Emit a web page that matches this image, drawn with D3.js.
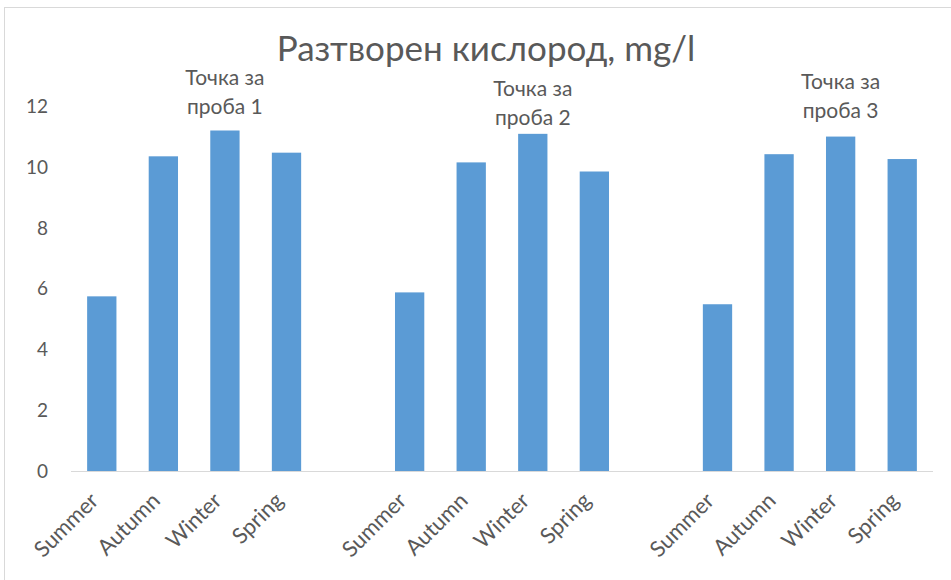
<!DOCTYPE html>
<html>
<head>
<meta charset="utf-8">
<script src="https://cdn.jsdelivr.net/npm/d3@7"></script>
<style>
    body { margin: 0; background: #fff; }
    text { font-family: Lato, "Open Sans", sans-serif; fill: #595959; }
</style>
</head>
<body>
<div id="chart"></div>
<script>
/*
----------------------------------------------------
    Data
----------------------------------------------------
*/
const seasons = ["Summer", "Autumn", "Winter", "Spring"];
const sampleLabels = ["Точка за\nпроба 1", "Точка за\nпроба 2", "Точка за\nпроба 3"];
const oxygenPoint1 = [5.75, 10.36, 11.21, 10.48];
const oxygenPoint2 = [5.88, 10.16, 11.10, 9.86];
const oxygenPoint3 = [5.49, 10.43, 11.01, 10.27];
const yTicks = [0, 2, 4, 6, 8, 10, 12];
const title = "Разтворен кислород, mg/l";

/*
----------------------------------------------------
    Build category slots (blank slot between groups)
----------------------------------------------------
*/
const groups = [oxygenPoint1, oxygenPoint2, oxygenPoint3];
var slots = [];
groups.forEach((vals, g) => {
    vals.forEach((v, i) => {
        slots.push({ id: slots.length, season: seasons[i], value: v, group: g });
    });
    if (g < groups.length - 1) slots.push({ id: slots.length, season: "", value: null, group: g });
});

var width = 951, height = 580;
var margin = { top: 106.5, right: 18, bottom: 109, left: 71 };

var svg = d3.select("#chart")
    .append("svg")
    .attr("width", width)
    .attr("height", height);

// Outer chart border (only the left/top edges show in the frame)
svg.append("rect")
    .attr("x", 4.5)
    .attr("y", 7.5)
    .attr("width", 1000)
    .attr("height", 1000)
    .attr("fill", "none")
    .attr("stroke", "#d9d9d9");

var x = d3.scaleBand()
    .domain(slots.map(d => d.id))
    .range([margin.left, width - margin.right])
    .paddingInner(0.524)
    .paddingOuter(0.262);

var y = d3.scaleLinear()
    .domain([0, 12])
    .range([height - margin.bottom, margin.top]);

// Title
svg.append("text")
    .attr("x", 486)
    .attr("y", 61)
    .attr("text-anchor", "middle")
    .style("font-size", "35px")
    .text(title);

// Y axis labels (no line, no gridlines)
var yAxis = svg.append("g")
    .attr("transform", "translate(" + (margin.left - 23) + ",0)")
    .call(d3.axisLeft(y).tickValues(yTicks).tickSize(0).tickPadding(0));
yAxis.select(".domain").remove();
yAxis.selectAll("text")
    .attr("fill", "#595959")
    .style("font-size", "19px")
    .style("font-family", "Lato, sans-serif");

// Bars
svg.selectAll(".bar")
    .data(slots.filter(d => d.value !== null))
    .enter()
    .append("rect")
    .attr("class", "bar")
    .attr("x", d => x(d.id))
    .attr("y", d => y(d.value))
    .attr("width", x.bandwidth())
    .attr("height", d => y(0) - y(d.value))
    .attr("fill", "#5b9bd5");

// Baseline
svg.append("line")
    .attr("x1", margin.left)
    .attr("x2", width - margin.right)
    .attr("y1", y(0) + 0.5)
    .attr("y2", y(0) + 0.5)
    .attr("stroke", "#d9d9d9")
    .attr("stroke-width", 1);

// X labels rotated -45
svg.selectAll(".xlabel")
    .data(slots.filter(d => d.season !== ""))
    .enter()
    .append("text")
    .attr("class", "xlabel")
    .attr("text-anchor", "end")
    .attr("transform", d => "translate(" + (x(d.id) + x.bandwidth() / 2 - 2) + "," + (y(0) + 31) + ") rotate(-45)")
    .style("font-size", "22px")
    .text(d => d.season);

// Sample point labels, centred over the Winter bar of each group
var labelLevels = [12.0, 11.64, 11.87]; // vertical position of second line, in axis units
sampleLabels.forEach((lbl, g) => {
    var winter = slots.find(d => d.group === g && d.season === "Winter");
    var cx = x(winter.id) + x.bandwidth() / 2;
    var lines = lbl.split("\n");
    var t = svg.append("text")
        .attr("text-anchor", "middle")
        .style("font-size", "21px");
    lines.forEach((ln, i) => {
        t.append("tspan")
            .attr("x", cx)
            .attr("y", y(labelLevels[g]) + (i - 1) * 29)
            .attr("dy", "0.35em")
            .text(ln);
    });
});
</script>
</body>
</html>
